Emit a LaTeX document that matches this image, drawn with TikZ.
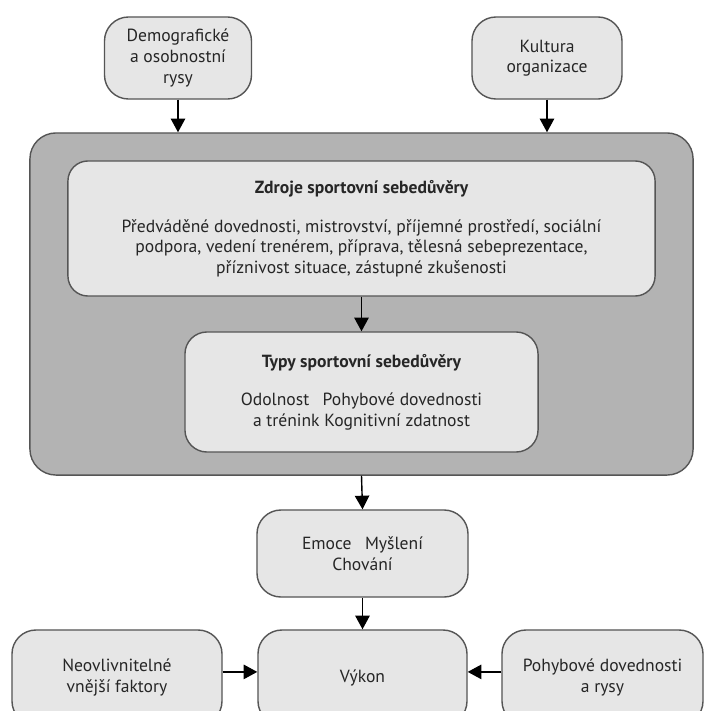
\documentclass[tikz,border=0pt]{standalone}
\usepackage{fontspec}
\setmainfont{PT Sans}
\usetikzlibrary{arrows.meta}
\definecolor{boxfill}{HTML}{E6E6E6}
\definecolor{outerfill}{HTML}{B3B3B3}
\definecolor{edgegray}{HTML}{555555}
\definecolor{textgray}{HTML}{262626}
\tikzset{
  box/.style={draw=edgegray,line width=1pt,fill=boxfill,rounded corners=0.6cm,
    align=center,text=textgray,font=\fontsize{12.5pt}{14.6pt}\selectfont,inner sep=0pt},
  outer/.style={draw=edgegray,line width=1pt,fill=outerfill,rounded corners=0.65cm,inner sep=0pt},
  flow/.style={line width=1pt,-{Triangle[width=0.36cm,length=0.34cm]}}
}
\begin{document}
\begin{tikzpicture}[x=0.025cm,y=-0.025cm]
\useasboundingbox (0,0) rectangle (706,711);
\clip (0,0) rectangle (706,711);
\fill[white] (0,0) rectangle (706,711);

\node[box,minimum width=3.675cm,minimum height=2.05cm] (demo) at (178,58)
  {Demografické\\a osobnostní\\rysy};
\node[box,minimum width=3.75cm,minimum height=2.05cm] (kultura) at (547,58)
  {Kultura\\organizace};

\node[outer,minimum width=16.575cm,minimum height=8.55cm] (okoli) at (361.5,304) {};

\node[box,minimum width=14.675cm,minimum height=3.375cm,rounded corners=0.5cm] (zdroje) at (361.5,228.5)
  {{\bfseries Zdroje sportovní sebedůvěry}\\[13pt]
   Předváděné dovednosti, mistrovství, příjemné prostředí, sociální\\
   podpora, vedení trenérem, příprava, tělesná sebeprezentace,\\
   příznivost situace, zástupné zkušenosti};
\node[box,minimum width=8.825cm,minimum height=3cm,rounded corners=0.55cm] (typy) at (361.5,392)
  {{\bfseries Typy sportovní sebedůvěry}\\[13pt]
   Odolnost\enspace\ Pohybové dovednosti\\
   a trénink Kognitivní zdatnost};

\node[box,minimum width=5.275cm,minimum height=2.175cm] (emoce) at (362.5,553.5)
  {Emoce\enspace\ Myšlení\\Chování};
\node[box,minimum width=5.225cm,minimum height=2.375cm] (vykon) at (362.5,677.5) {Výkon};
\node[box,minimum width=5.25cm,minimum height=2.375cm] (vnejsi) at (117,677.5)
  {Neovlivnitelné\\vnější faktory};
\node[box,minimum width=5.025cm,minimum height=2.375cm] (pohyb) at (602.5,677.5)
  {Pohybové dovednosti\\a rysy};

\draw[flow] (demo.south) -- (demo.south |- okoli.north);
\draw[flow] (kultura.south) -- (kultura.south |- okoli.north);
\draw[flow] (zdroje.south) -- (typy.north);
\draw[flow] (okoli.south) -- (emoce.north);
\draw[flow] (emoce.south) -- (vykon.north);
\draw[flow] ([yshift=0.14cm]vnejsi.east) -- ([yshift=0.14cm]vykon.west);
\draw[flow] ([yshift=0.14cm]pohyb.west) -- ([yshift=0.14cm]vykon.east);
\end{tikzpicture}
\end{document}
